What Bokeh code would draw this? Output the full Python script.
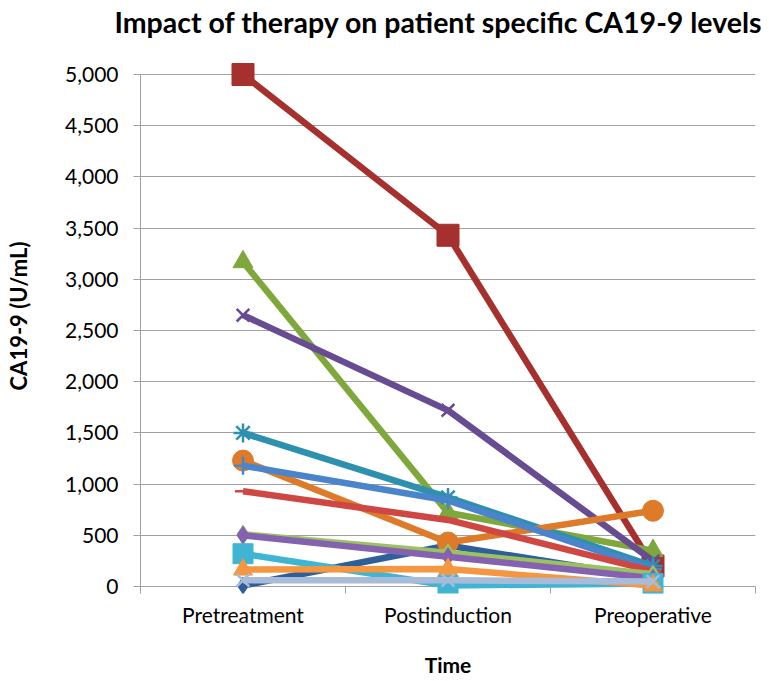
from bokeh.plotting import figure
from bokeh.models import Range1d, FixedTicker, NumeralTickFormatter, Title
from bokeh.embed import file_html
from bokeh.resources import INLINE

categories = ["Pretreatment", "Postinduction", "Preoperative"]

s1 = [10, 400, 80]
s2 = [5000, 3430, 200]
s3 = [3170, 720, 350]
s4 = [2650, 1720, 250]
s5 = [1500, 870, 200]
s6 = [1230, 430, 740]
s7 = [1180, 840, 170]
s8 = [930, 650, 150]
s9 = [510, 330, 120]
s10 = [500, 290, 80]
s11 = [320, 10, 30]
s12 = [165, 170, 10]
s13 = [60, 60, 50]

y_ticks = list(range(0, 5001, 500))

series = [
    (s1, "#2E5F99", "diamond", 17),
    (s2, "#A5302D", "square", 22),
    (s3, "#7FA83C", "triangle", 20),
    (s4, "#684C92", "x", 18),
    (s5, "#2C90AE", "asterisk", 19),
    (s6, "#DD7B2A", "circle", 21),
    (s7, "#4A85CC", "cross", 18),
    (s8, "#CF4742", "dash", 16),
    (s9, "#9CC160", "diamond", 18),
    (s10, "#8462B0", "diamond", 18),
    (s11, "#3FB5D3", "square", 20),
    (s12, "#F59640", "triangle", 19),
    (s13, "#A8BBD9", "x", 18),
]

FONT = "Lato"

# frame extends above 5,000 and a tick-length below 0 (axis/grid bounded to the data span)
TOP_BORDER = 38
BOTTOM_BORDER = 88
PX_PER_UNIT = 512 / 5000
y_end = 5000 + (74 - TOP_BORDER) / PX_PER_UNIT
y_start = -7 / PX_PER_UNIT

p = figure(width=769, height=681, output_backend="svg", toolbar_location=None,
           x_range=Range1d(0, len(categories)), y_range=Range1d(y_start, y_end),
           min_border_left=140, min_border_right=14, min_border_top=TOP_BORDER,
           min_border_bottom=BOTTOM_BORDER)
p.outline_line_color = None
p.background_fill_color = "white"
p.border_fill_color = "white"

xs = [i + 0.5 for i in range(len(categories))]

for vals, col, mk, sz in series:
    p.line(x=xs, y=vals, line_color=col, line_width=6.5)
    lw = 2.5 if mk in ("x", "asterisk", "cross", "dash") else 1
    p.scatter(x=xs, y=vals, marker=mk, size=sz, fill_color=col, line_color=col, line_width=lw)

# y axis
p.yaxis.ticker = FixedTicker(ticks=y_ticks)
p.yaxis.formatter = NumeralTickFormatter(format="0,0")
p.yaxis.bounds = (y_start, 5000)
p.yaxis.axis_line_color = "#a0a0a0"
p.yaxis.major_tick_line_color = "#a0a0a0"
p.yaxis.major_tick_out = 7
p.yaxis.major_tick_in = 0
p.yaxis.minor_tick_line_color = None
p.yaxis.major_label_text_font = FONT
p.yaxis.major_label_text_font_size = "21px"
p.yaxis.major_label_text_color = "black"
p.yaxis.major_label_standoff = 15
p.yaxis.axis_label = "CA19-9 (U/mL)"
p.yaxis.axis_label_text_font = FONT
p.yaxis.axis_label_text_font_style = "bold"
p.yaxis.axis_label_text_font_size = "22px"
p.yaxis.axis_label_text_color = "black"
p.yaxis.axis_label_standoff = 30

# x axis: the 0 gridline acts as the axis line; boundary ticks hang below it
p.xaxis.ticker = FixedTicker(ticks=xs, minor_ticks=list(range(len(categories) + 1)))
p.xaxis.major_label_overrides = {x: c for x, c in zip(xs, categories)}
p.xaxis.axis_line_color = None
p.xaxis.major_tick_line_color = None
p.xaxis.major_tick_out = 0
p.xaxis.major_tick_in = 0
p.xaxis.minor_tick_line_color = "#a0a0a0"
p.xaxis.minor_tick_out = 0
p.xaxis.minor_tick_in = 7
p.xaxis.major_label_text_font = FONT
p.xaxis.major_label_text_font_size = "21px"
p.xaxis.major_label_text_color = "black"
p.xaxis.major_label_standoff = 8
p.xaxis.axis_label = "Time"
p.xaxis.axis_label_text_font = FONT
p.xaxis.axis_label_text_font_style = "bold"
p.xaxis.axis_label_text_font_size = "21px"
p.xaxis.axis_label_text_color = "black"
p.xaxis.axis_label_standoff = 22

p.xgrid.grid_line_color = None
p.ygrid.grid_line_color = "#a0a0a0"
p.ygrid.bounds = (0, 5000)
p.ygrid.ticker = FixedTicker(ticks=y_ticks)

t = Title(text="Impact of therapy on patient specific CA19-9 levels", align="left", offset=-26,
          text_font=FONT, text_font_style="bold", text_font_size="28.5px", text_color="black",
          standoff=0)
p.add_layout(t, "above")

open("out.html", "w").write(file_html(p, INLINE))
